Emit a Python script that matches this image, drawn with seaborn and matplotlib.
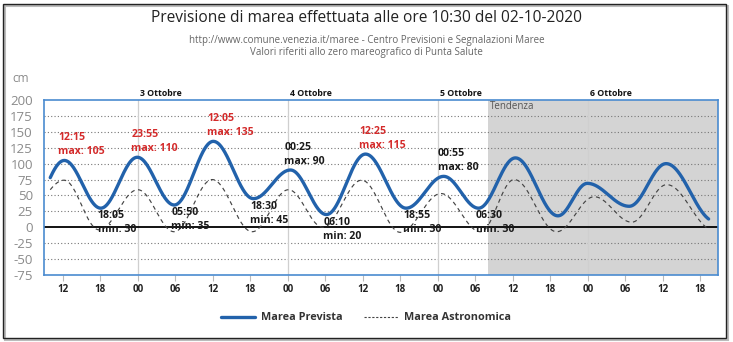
import numpy as np
import pandas as pd
import matplotlib
matplotlib.use("Agg")
import matplotlib.pyplot as plt
import matplotlib.transforms as mtransforms
from matplotlib.patches import Rectangle
from matplotlib.lines import Line2D
import seaborn as sns

# ---------------- data (hours from 02-10-2020 00:00) ----------------
prev_times = [10.0, 12.25, 18.08, 23.92, 29.83, 36.08, 42.5, 48.42, 54.17, 60.42,
              66.92, 72.92, 78.5, 84.4, 91.2, 95.9, 102.6, 108.5, 115.3]
prev_values = [78, 105, 30, 110, 35, 135, 45, 90, 20, 115,
               30, 80, 30, 109, 18, 69, 33, 100, 13]

astro_times = [10.0, 12.2, 17.8, 24.0, 29.8, 35.9, 42.3, 48.1, 53.6, 59.8,
               66.0, 72.5, 78.8, 84.2, 91.0, 97.0, 103.0, 108.6, 115.2]
astro_values = [59, 74, -4, 59, -7, 75, -7, 59, 0, 74,
                -8, 53, -7, 75, -7, 48, 8, 67, -2]

max_labels = ["12:15", "23:55", "12:05", "00:25", "12:25", "00:55"]
max_values = [105, 110, 135, 90, 115, 80]
min_labels = ["18:05", "05:50", "18:30", "06:10", "18:55", "06:30"]
min_values = [30, 35, 45, 20, 30, 30]

tick_hours = [12, 18, 24, 30, 36, 42, 48, 54, 60, 66, 72, 78, 84, 90, 96, 102, 108, 114]
tick_labels = ["12", "18", "00", "06", "12", "18", "00", "06", "12", "18",
               "00", "06", "12", "18", "00", "06", "12", "18"]
day_hours = [24, 48, 72, 96]
day_labels = ["3 Ottobre", "4 Ottobre", "5 Ottobre", "6 Ottobre"]
y_ticks = [-75, -50, -25, 0, 25, 50, 75, 100, 125, 150, 175, 200]
tendenza_start = 80.0

# ---------------- smooth tide rendering through extrema ----------------
def tide_curve(times, values, half=6.2, step=0.05):
    ts, vs = [], []
    n = len(times)
    for i in range(n - 1):
        t0, t1 = times[i], times[i + 1]
        v0, v1 = values[i], values[i + 1]
        tt = np.arange(t0, t1, step)
        dt = t1 - t0
        hp = max(half, dt * 1.15)
        if i == 0:
            frac = 1 - np.cos(np.pi * dt / hp)
            A = (v0 - v1) * 2 / frac
            vv = v1 + A * (1 - np.cos(np.pi * (t1 - tt) / hp)) / 2
        elif i == n - 2:
            frac = 1 - np.cos(np.pi * dt / hp)
            A = (v1 - v0) * 2 / frac
            vv = v0 + A * (1 - np.cos(np.pi * (tt - t0) / hp)) / 2
        else:
            ph = (tt - t0) / dt
            vv = v0 + (v1 - v0) * (1 - np.cos(np.pi * ph)) / 2
        ts.append(tt)
        vs.append(vv)
    ts.append(np.array([times[-1]]))
    vs.append(np.array([values[-1]], dtype=float))
    return np.concatenate(ts), np.concatenate(vs)

tp, vp = tide_curve(prev_times, prev_values)
ta, va = tide_curve(astro_times, astro_values)
df = pd.concat([
    pd.DataFrame({"ore": tp, "cm": vp, "serie": "Marea Prevista"}),
    pd.DataFrame({"ore": ta, "cm": va, "serie": "Marea Astronomica"}),
])

# ---------------- figure ----------------
sns.set_theme(style="white")
plt.rcParams["font.family"] = ["Open Sans", "DejaVu Sans"]

W, H = 733, 342
fig = plt.figure(figsize=(W / 100, H / 100), dpi=100, facecolor="white")
ax = fig.add_axes([44 / W, 1 - 275 / H, (718 - 44) / W, (275 - 100) / H])
ax.set_facecolor("white")

blue = "#2262ab"
red = "#d42b2b"

ax.axvspan(tendenza_start, 117, color="#d4d4d4", zorder=0, lw=0)

for yv in y_ticks:
    if yv in (0, -75, 200):
        continue
    ax.axhline(yv, color="#777777", lw=0.8, ls=(0, (1, 2)), zorder=1)
for dh in day_hours:
    ax.axvline(dh, color="#cfcfcf", lw=0.9, zorder=1)
ax.axhline(0, color="black", lw=1.3, zorder=2)

sns.lineplot(data=df[df.serie == "Marea Astronomica"], x="ore", y="cm", ax=ax,
             color="#444444", lw=0.85, linestyle=(0, (3.5, 3)), zorder=3,
             estimator=None, sort=False, legend=False)
sns.lineplot(data=df[df.serie == "Marea Prevista"], x="ore", y="cm", ax=ax,
             color=blue, lw=2.4, zorder=4, estimator=None, sort=False, legend=False)

ax.set_xlim(9.0, 116.8)
ax.set_ylim(-75, 200)
ax.set_xlabel("")
ax.set_ylabel("")

ax.set_yticks(y_ticks)
ax.set_yticklabels([str(v) for v in y_ticks])
ax.tick_params(axis="y", length=0, pad=8, labelsize=9.5, labelcolor="#8a8a8a")
ax.set_xticks(tick_hours)
ax.set_xticklabels(tick_labels)
ax.tick_params(axis="x", length=4, width=0.8, color="#bbbbbb", pad=2.5,
               labelsize=7, labelcolor="#222222", bottom=True)
for lab in ax.get_xticklabels():
    lab.set_fontweight("bold")

for sp in ax.spines.values():
    sp.set_color("#4a8bd0")
    sp.set_linewidth(1.2)
    sp.set_visible(True)

trans = mtransforms.blended_transform_factory(ax.transData, ax.transAxes)
for dh, dl in zip(day_hours, day_labels):
    ax.text(dh + 0.3, 1.04, dl, transform=trans, ha="left", va="center",
            fontsize=6.3, fontweight="bold", color="#111111")

ax.text(tendenza_start + 0.4, 190, "Tendenza", ha="left", va="center",
        fontsize=7, color="#555555", zorder=5)

max_idx = [1, 3, 5, 7, 9, 11]
min_idx = [2, 4, 6, 8, 10, 12]
px = 0.72
for k, i in enumerate(max_idx):
    col = red if max_values[k] >= 100 else "#1a1a1a"
    ax.annotate(f"{max_labels[k]}\nmax: {max_values[k]}",
                xy=(prev_times[i], prev_values[i]), xytext=(-6 * px, 3 * px),
                textcoords="offset points", ha="left", va="bottom",
                fontsize=7.6, fontweight="bold", color=col, linespacing=1.4,
                zorder=6)
for k, i in enumerate(min_idx):
    ax.annotate(f"{min_labels[k]}\nmin: {min_values[k]}",
                xy=(prev_times[i], prev_values[i]), xytext=(-3 * px, -2 * px),
                textcoords="offset points", ha="left", va="top",
                fontsize=7.6, fontweight="bold", color="#1a1a1a", linespacing=1.4,
                zorder=6)

fig.text(0.5, 1 - 18 / H, "Previsione di marea effettuata alle ore 10:30 del 02-10-2020",
         ha="center", va="center", fontsize=11.2, color="#222222")
fig.text(0.5, 1 - 40 / H,
         "http://www.comune.venezia.it/maree - Centro Previsioni e Segnalazioni Maree",
         ha="center", va="center", fontsize=7, color="#666666")
fig.text(0.5, 1 - 53 / H, "Valori riferiti allo zero mareografico di Punta Salute",
         ha="center", va="center", fontsize=7, color="#666666")
fig.text(12 / W, 1 - 78 / H, "cm", ha="left", va="center", fontsize=8.5, color="#8a8a8a")

handles = [Line2D([], [], color=blue, lw=2.4),
           Line2D([], [], color="#444444", lw=0.8, linestyle=(0, (2, 1.5)))]
leg = fig.legend(handles, ["Marea Prevista", "Marea Astronomica"], loc="center",
                 bbox_to_anchor=(366 / W, 1 - 318 / H), ncol=2, frameon=False,
                 handlelength=3.2, columnspacing=2.0, handletextpad=0.5,
                 prop={"size": 7.8, "weight": "bold"})
for t in leg.get_texts():
    t.set_color("#333333")

fig.patches.append(Rectangle((5 / W, 1 - 340 / H), 723 / W, 334 / H,
                             transform=fig.transFigure, fill=False,
                             edgecolor="#bbbbbb", lw=1.5, zorder=-1))
fig.patches.append(Rectangle((3 / W, 1 - 338 / H), 723 / W, 334 / H,
                             transform=fig.transFigure, fill=False,
                             edgecolor="#222222", lw=1.0, zorder=0))

fig.savefig("out.png", dpi=100)
